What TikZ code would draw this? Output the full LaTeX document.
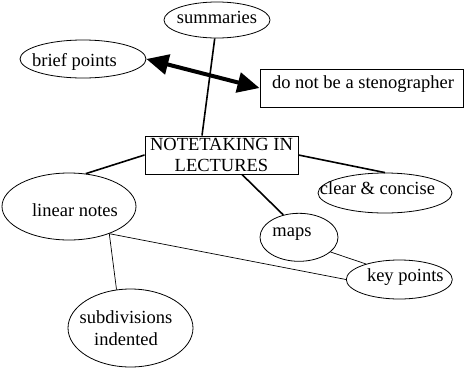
\documentclass[tikz,border=0pt]{standalone}
\usepackage{fontspec}
\setmainfont{Liberation Serif}
\usetikzlibrary{arrows.meta,calc,positioning,shapes.geometric}

\tikzset{
  bubble/.style={draw, ellipse, line width=0.8pt, inner sep=0pt},
  panel/.style={draw, rectangle, line width=1pt, inner sep=0pt},
  lbl/.style={inner sep=0pt, anchor=base, font=\fontsize{18.5}{22}\selectfont},
  heavylink/.style={line width=1.6pt},
  lightlink/.style={line width=0.7pt},
}

\begin{document}
\begin{tikzpicture}[x=1pt,y=1pt]
\useasboundingbox (0,0) rectangle (466,-370);

\node[bubble, minimum width=106pt, minimum height=36pt] (summ) at (217,-20) {};
\node[bubble, minimum width=126pt, minimum height=38pt] (brief) at (83,-59) {};
\node[panel, minimum width=203pt, minimum height=38pt] (steno) at (361.5,-88) {};
\node[panel, minimum width=153pt, minimum height=38pt, align=center,
      font=\fontsize{18.5}{21.5}\selectfont] (note) at (221.5,-155) {NOTETAKING IN\\LECTURES};
\node[bubble, minimum width=134pt, minimum height=67pt] (lin) at (69,-206.5) {};
\node[bubble, minimum width=134pt, minimum height=40pt] (clear) at (385,-193) {};
\node[bubble, minimum width=78pt, minimum height=48pt] (maps) at (299,-237.3) {};
\node[bubble, minimum width=106pt, minimum height=39pt] (key) at (399.3,-279.5) {};
\node[bubble, minimum width=125pt, minimum height=78pt] (sub) at (130.5,-328) {};

% labels
\node[lbl] at ($(summ) + (0,-3.5)$) {summaries};
\node[lbl] at ($(brief) + (-8.5,-7)$) {brief points};
\node[lbl] at ($(steno) + (1.5,0)$) {do not be a stenographer};
\node[lbl] at ($(lin) + (6,-10)$) {linear notes};
\node[lbl] at ($(clear) + (-7.5,-1)$) {clear \& concise};
\node[lbl] at ($(maps) + (-7,0.5)$) {maps};
\node[lbl] at ($(key) + (6,-2)$) {key points};
\node[lbl, anchor=center, align=center] at ($(sub) + (-4.5,0)$) {subdivisions\\indented};

% connectors
\draw [heavylink] (summ.263) to ($(note.north) + (-19.5,0)$);
\draw [line width=4pt, {Triangle[length=22pt,width=20pt]}-{Triangle[length=22pt,width=20pt]}]
  (brief.east) to (steno.west);
\draw [heavylink] (note.west) to (lin.63);
\draw [heavylink] (note.east) to (clear.north);
\draw [heavylink] ($(note.south) + (20.5,0)$) to (maps.125);
\draw [lightlink] (lin.-34) to (key.west);
\draw [lightlink] (lin.-34) to (sub.110);
\draw [lightlink] (maps.-25) to (key.155);
\end{tikzpicture}
\end{document}
